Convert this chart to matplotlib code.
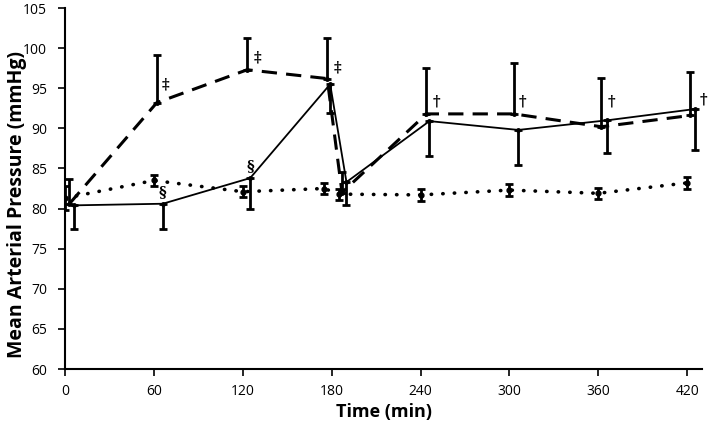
import matplotlib
matplotlib.use("Agg")
import matplotlib.pyplot as plt

# ---- data ----
x_ticks = [0, 60, 120, 180, 240, 300, 360, 420]
y_ticks = [60, 65, 70, 75, 80, 85, 90, 95, 100, 105]

# control (dotted)
t_dot = [0, 60, 120, 175, 185, 240, 300, 360, 420]
v_dot = [81.3, 83.5, 82.1, 82.5, 81.8, 81.7, 82.3, 81.9, 83.2]
e_dot = [1.5, 0.7, 0.7, 0.7, 0.7, 0.7, 0.7, 0.7, 0.7]

# solid series (lower error bars)
t_sol = [6, 66, 125, 179, 190, 246, 306, 366, 425]
v_sol = [80.4, 80.6, 83.8, 95.5, 83.3, 90.9, 89.8, 91.0, 92.4]
e_sol = [3.0, 3.2, 3.8, 3.6, 2.8, 4.4, 4.4, 4.1, 5.1]

# dashed series (upper error bars)
t_dash = [3, 62, 123, 177, 187, 244, 303, 362, 422]
v_dash = [80.6, 93.2, 97.3, 96.2, 82.0, 91.8, 91.8, 90.2, 91.6]
e_dash = [3.1, 5.9, 3.9, 5.0, 2.5, 5.7, 6.3, 6.1, 5.4]

# significance marks
ann_text = ["‡", "‡", "‡", "§", "§", "†", "†", "†", "†"]
ann_x = [68, 130, 184, 66, 125, 251, 309, 369, 431]
ann_y = [95.5, 98.8, 97.6, 82.0, 85.3, 93.3, 93.4, 93.4, 93.6]

plt.rcParams['font.family'] = ['Open Sans', 'DejaVu Sans']

fig = plt.figure(figsize=(7.08, 4.28), dpi=100)
ax = fig.add_axes([65/708, 1 - 369/428, (702-65)/708, (369-8)/428])

# dotted
ax.plot(t_dot, v_dot, color='black', lw=2.6, linestyle=(0, (0.1, 3.1)),
        dash_capstyle='round', marker='o', ms=3.5, zorder=3)
ax.errorbar(t_dot, v_dot, yerr=e_dot, fmt='none', ecolor='black',
            elinewidth=2, capsize=3, capthick=2, zorder=3)

# solid
ax.plot(t_sol, v_sol, color='black', lw=1.3, linestyle='-', marker='o',
        ms=2.5, zorder=4)
ax.errorbar(t_sol, v_sol, yerr=[e_sol, [0]*len(e_sol)], fmt='none',
            ecolor='black', elinewidth=2, capsize=3, capthick=2, zorder=4)

# dashed
ax.plot(t_dash, v_dash, color='black', lw=2.2, linestyle=(0, (5, 3)),
        marker='o', ms=2.5, zorder=4)
ax.errorbar(t_dash, v_dash, yerr=[[0]*len(e_dash), e_dash], fmt='none',
            ecolor='black', elinewidth=2, capsize=3, capthick=2, zorder=4)

for s, x, y in zip(ann_text, ann_x, ann_y):
    ax.text(x, y, s, fontsize=10.5, ha='center', va='center',
            family=['DejaVu Serif'], fontweight='bold', clip_on=False)

ax.set_xlim(0, 430)
ax.set_ylim(60, 105)
ax.set_xticks(x_ticks)
ax.set_yticks(y_ticks)
ax.tick_params(axis='both', direction='out', length=5, width=1.2,
               labelsize=10, color='black')
ax.tick_params(axis='x', pad=6)
ax.tick_params(axis='y', pad=8)
for sp in ['top', 'right']:
    ax.spines[sp].set_visible(False)
for sp in ['left', 'bottom']:
    ax.spines[sp].set_linewidth(1.5)

ax.set_xlabel("Time (min)", fontsize=13, fontweight='bold')
ax.set_ylabel("Mean Arterial Pressure (mmHg)", fontsize=14,
              fontweight='bold')
ax.xaxis.set_label_coords(0.5, -0.095)
ax.yaxis.set_label_coords(-0.059, 0.455)

fig.savefig("out.png", dpi=100)
